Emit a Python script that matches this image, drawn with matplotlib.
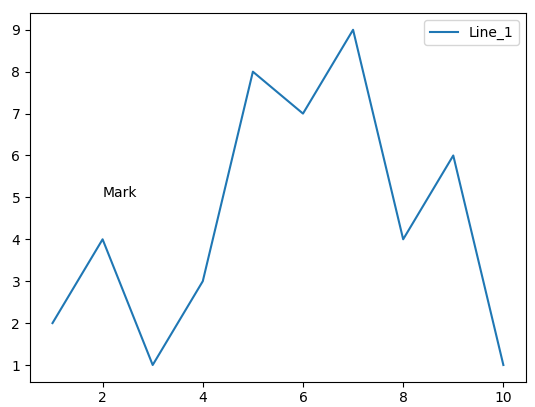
import matplotlib
matplotlib.use("Agg")
from matplotlib import pyplot as plt

x_values = [1, 2, 3, 4, 5, 6, 7, 8, 9, 10]
y_values = [2, 4, 1, 3, 8, 7, 9, 4, 6, 1]
series_name = "Line_1"
note_text = "Mark"
note_pos = (2, 5)

fig = plt.figure(figsize=(5.35, 4.07), dpi=100)
ax = fig.add_subplot(111)
fig.subplots_adjust(left=0.056, right=0.983, top=0.968, bottom=0.062)

ax.plot(x_values, y_values, label=series_name)
ax.text(note_pos[0], note_pos[1], note_text)
ax.legend(loc="upper right")

fig.savefig("out.png", dpi=100)
